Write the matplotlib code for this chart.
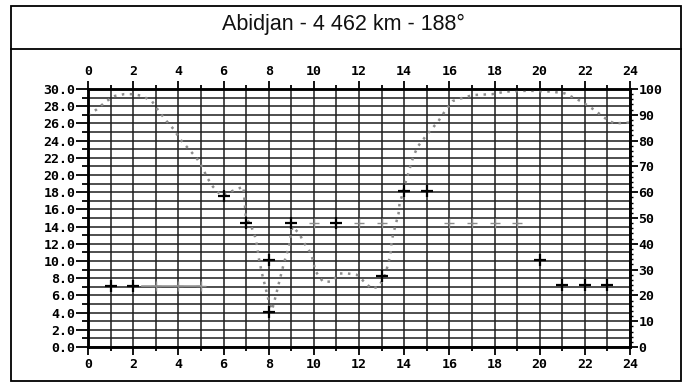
import matplotlib
matplotlib.use("Agg")
import matplotlib.pyplot as plt
from matplotlib.patches import Rectangle
from matplotlib.lines import Line2D
import numpy as np

# courbe MUF (heures, MHz)
muf_h = [0.0, 0.37, 0.82, 1.2, 1.6, 2.0, 2.4, 2.84, 3.14, 3.5, 3.8, 4.1, 4.8, 5.0,
         5.3, 5.53, 5.83, 5.93, 6.35, 6.88, 7.0, 7.18, 7.4, 7.5, 7.55, 7.7, 7.85,
         8.0, 8.15, 8.3, 8.45, 8.67, 8.9, 9.05, 9.35, 9.57, 9.87, 10.0, 10.05, 10.4,
         10.8, 11.0, 11.15, 11.5, 11.9, 12.55, 12.86, 13.1, 13.3, 13.4, 13.45, 13.6,
         13.75, 13.8, 13.95, 14.0, 14.4, 14.6, 14.95, 15.2, 15.5, 15.85, 16.15,
         16.75, 17.1, 17.9, 18.5, 19.5, 20.5, 21.1, 21.85, 22.4, 23.0, 23.3, 24.0]
muf_v = [27.0, 27.6, 28.6, 29.2, 29.4, 29.4, 29.2, 28.55, 27.4, 26.2, 25.3, 24.1, 22.0, 21.2,
         19.6, 18.65, 17.8, 17.6, 18.1, 18.65, 14.8, 14.4, 12.8, 11.6, 10.5, 8.6, 7.0,
         5.4, 4.3, 5.8, 7.4, 9.7, 11.7, 14.0, 13.2, 12.1, 10.9, 9.7, 8.9, 7.6,
         7.6, 8.2, 8.55, 8.55, 8.4, 6.8, 7.0, 8.0, 9.7, 11.0, 12.4, 14.0,
         15.5, 16.8, 17.9, 18.6, 22.1, 23.3, 24.5, 25.3, 26.2, 27.6, 28.6,
         29.1, 29.3, 29.4, 29.7, 29.8, 29.7, 29.5, 28.55, 27.6, 26.4, 26.0, 26.1]

# croix noires
cross_h = [1, 2, 6, 7, 8, 8, 9, 11, 13, 14, 15, 20, 21, 22, 23]
cross_v = [7.1, 7.1, 17.6, 14.4, 10.1, 4.1, 14.4, 14.4, 8.2, 18.1, 18.1, 10.1, 7.2, 7.2, 7.2]

# croix claires
light_h = [3, 4, 5, 10, 12, 13, 16, 17, 18, 19]
light_v = [7.1, 7.1, 7.1, 14.4, 14.4, 14.4, 14.4, 14.4, 14.4, 14.4]

# segment horizontal clair
seg_h = [2.4, 5.0]
seg_v = [7.1, 7.1]

title = "Abidjan - 4 462 km - 188°"
x_labels = [str(h) for h in range(0, 25, 2)]
left_labels = ["%.1f" % v for v in np.arange(0, 31, 2)]
right_labels = [str(p) for p in range(0, 101, 10)]

fig = plt.figure(figsize=(6.86, 3.82), dpi=100)
fig.patch.set_facecolor("white")

# cadre extérieur + bandeau titre
fig.add_artist(Rectangle((11 / 686, 1 / 382), 670 / 686, 375 / 382, transform=fig.transFigure,
                         fill=False, edgecolor="black", linewidth=1.3))
fig.add_artist(Line2D([11 / 686, 681 / 686], [1 - 49 / 382, 1 - 49 / 382], transform=fig.transFigure,
                      color="black", linewidth=1.3))
fig.text(0.5, 1 - 24 / 382, title, ha="center", va="center", fontsize=15.5,
         family="Liberation Sans", color="#111111")

ax = fig.add_axes([88 / 686, 1 - 347 / 382, 542 / 686, 258 / 382])
ax.set_xlim(0, 24)
ax.set_ylim(0, 30)

tick_font = {"family": "DejaVu Sans Mono", "weight": "bold", "size": 9.5}

ax.set_xticks(range(0, 25, 2))
ax.set_xticks(range(0, 25), minor=True)
ax.set_xticklabels(x_labels, fontdict=tick_font)
ax.set_yticks(np.arange(0, 31, 2))
ax.set_yticks(np.arange(0, 31, 1), minor=True)
ax.set_yticklabels(left_labels, fontdict=tick_font)
for lbl in ax.get_yticklabels():
    if lbl.get_text() == "0.0":
        lbl.set_visible(False)

ax.tick_params(axis="x", which="both", top=True, labeltop=True, bottom=True, labelbottom=True,
               direction="out", width=1.3, pad=2)
ax.tick_params(axis="x", which="major", length=6)
ax.tick_params(axis="x", which="minor", length=3)
ax.tick_params(axis="y", which="major", length=9, width=1.3, pad=0)
ax.tick_params(axis="y", which="minor", length=4, width=1.3)

ax.grid(which="both", axis="both", color="#1e1e1e", linewidth=1.1)
ax.set_axisbelow(True)
for s in ax.spines.values():
    s.set_linewidth(1.8)

ax.plot(muf_h, muf_v, color="#8c8c8c", linewidth=1.8, linestyle=(0, (1, 2.2)), zorder=3)
ax.plot(seg_h, seg_v, color="#9a9a9a", linewidth=1.2, zorder=3)
ax.plot(light_h, light_v, linestyle="none", marker="+", markersize=7, markeredgewidth=1.0,
        color="#8a8a8a", zorder=4)
ax.plot(cross_h, cross_v, linestyle="none", marker="+", markersize=9, markeredgewidth=1.6,
        color="black", zorder=5)

ax2 = ax.twinx()
ax2.set_ylim(0, 100)
ax2.set_yticks(range(0, 101, 10))
ax2.set_yticks(range(0, 101, 2), minor=True)
ax2.set_yticklabels(right_labels, fontdict=tick_font)
ax2.tick_params(axis="y", which="major", length=6, width=1.3, pad=0)
ax2.tick_params(axis="y", which="minor", length=2, width=1.0)
for s in ax2.spines.values():
    s.set_linewidth(1.8)

fig.savefig("out.png", dpi=100)
